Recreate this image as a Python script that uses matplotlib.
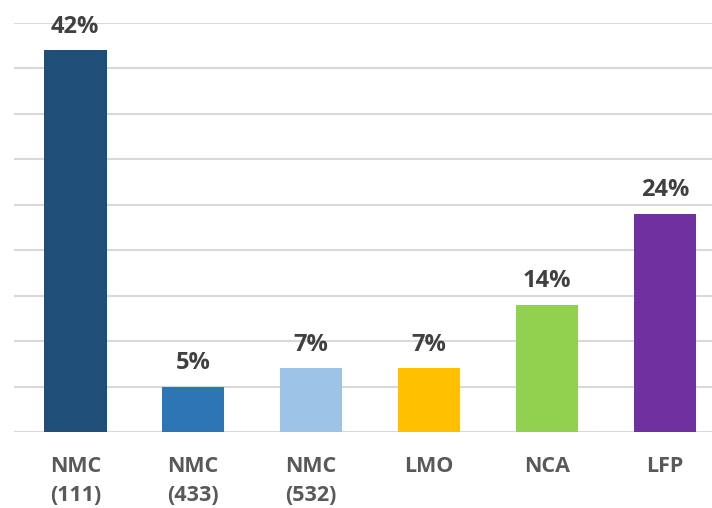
import matplotlib
matplotlib.use("Agg")
import matplotlib.pyplot as plt

# battery chemistry share, percent
chemistries = ["NMC\n(111)", "NMC\n(433)", "NMC\n(532)", "LMO", "NCA", "LFP"]
shares = [42, 5, 7, 7, 14, 24]
colors = ["#1F4E79", "#2E75B6", "#9DC3E6", "#FFC000", "#92D050", "#7030A0"]

plt.rcParams["font.family"] = ["Open Sans", "DejaVu Sans"]

fig = plt.figure(figsize=(7.12, 5.08), dpi=100)
ax = fig.add_axes([14 / 712, 76 / 508, 698 / 712, 409 / 508])

x = range(len(shares))
ax.bar(x, shares, width=0.53, color=colors, zorder=3)

for xi, v in zip(x, shares):
    ax.annotate(f"{v}%", (xi, v), xytext=(0, 17), textcoords="offset points",
                ha="center", va="center", fontsize=17, fontweight="bold",
                color="#404040")

ax.set_xlim(-0.52, 5.40)
ax.set_ylim(0, 45)
ax.set_yticks(range(0, 46, 5))
ax.yaxis.grid(True, color="#d9d9d9", linewidth=1.5, zorder=0)
ax.tick_params(axis="y", length=0, labelleft=False)
ax.set_xticks(list(x))
ax.set_xticklabels(chemistries, fontsize=15.5, fontweight="bold", color="#595959",
                   linespacing=1.5)
ax.tick_params(axis="x", length=0, pad=17.5)
for s in ax.spines.values():
    s.set_visible(False)

fig.savefig("out.png", dpi=100)
